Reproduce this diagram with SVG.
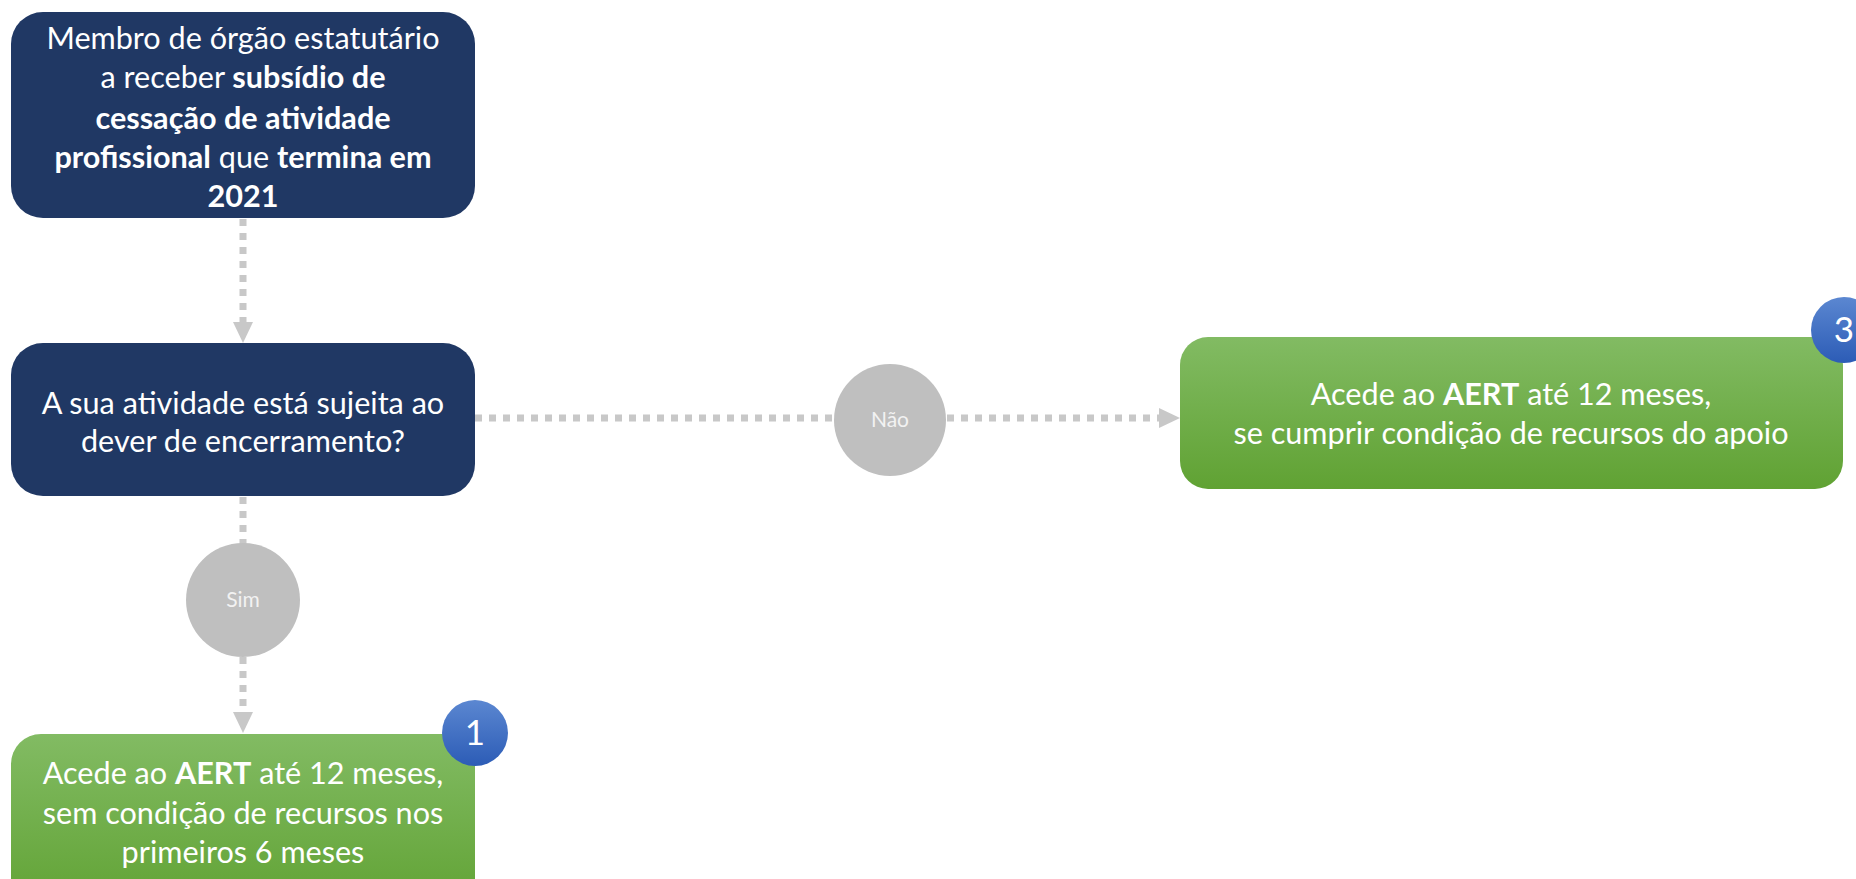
<svg xmlns="http://www.w3.org/2000/svg" width="1856" height="879" viewBox="0 0 1856 879">
<style>
.t{font-family:Lato,"Open Sans","Liberation Sans",sans-serif;fill:#ffffff;text-anchor:middle;font-size:30.6px}
.b{font-weight:bold}
.lbl{font-family:Lato,"Open Sans","Liberation Sans",sans-serif;fill:#f2f2f2;text-anchor:middle;font-size:21px}
.num{font-family:Lato,"Open Sans","Liberation Sans",sans-serif;fill:#ffffff;text-anchor:middle;font-size:35px}
.navy{fill:#203864}
.green{fill:url(#gg)}
.dot{fill:none;stroke:#c8c8c8;stroke-width:7;stroke-dasharray:7 7}
.dec{fill:#bfbfbf}
.badge{fill:url(#bg)}
</style>
<defs>
<linearGradient id="gg" x1="0" y1="0" x2="0" y2="1">
<stop offset="0" stop-color="#82bb63"/>
<stop offset="1" stop-color="#60a233"/>
</linearGradient>
<linearGradient id="bg" x1="0" y1="0" x2="0" y2="1">
<stop offset="0" stop-color="#5b87d1"/>
<stop offset="1" stop-color="#2c5cb6"/>
</linearGradient>
<marker id="ah" markerUnits="userSpaceOnUse" markerWidth="21" markerHeight="20" refX="0" refY="10" orient="auto">
<path d="M0,0 L21,10 L0,20 z" fill="#c8c8c8"/>
</marker>
</defs>
<g id="connectors">
<line class="dot" x1="243" y1="219" x2="243" y2="322" marker-end="url(#ah)"/>
<line class="dot" x1="243" y1="497" x2="243" y2="545"/>
<line class="dot" x1="243" y1="657" x2="243" y2="712" marker-end="url(#ah)"/>
<line class="dot" x1="475" y1="418" x2="836" y2="418"/>
<line class="dot" x1="947" y1="418" x2="1159" y2="418" marker-end="url(#ah)"/>
</g>
<g id="node-start">
<rect class="navy" x="11" y="12" width="464" height="206" rx="32"/>
<text class="t" x="243" y="49">Membro de órgão estatutário</text>
<text class="t" x="243" y="88">a receber <tspan class="b">subsídio de</tspan></text>
<text class="t" x="243" y="129"><tspan class="b">cessação de atividade</tspan></text>
<text class="t" x="243" y="168"><tspan class="b">profissional</tspan> que <tspan class="b">termina em</tspan></text>
<text class="t" x="243" y="207"><tspan class="b">2021</tspan></text>
</g>
<g id="node-question">
<rect class="navy" x="11" y="343" width="464" height="153" rx="32"/>
<text class="t" x="243" y="414">A sua atividade está sujeita ao</text>
<text class="t" x="243" y="452">dever de encerramento?</text>
</g>
<g id="node-sim">
<circle class="dec" cx="243" cy="600" r="57"/>
<text class="lbl" x="243" y="607">Sim</text>
</g>
<g id="node-nao">
<circle class="dec" cx="890" cy="420" r="56"/>
<text class="lbl" x="890" y="427">Não</text>
</g>
<g id="node-result1">
<rect class="green" x="11" y="734" width="464" height="180" rx="30"/>
<text class="t" x="243" y="784">Acede ao <tspan class="b">AERT</tspan> até 12 meses,</text>
<text class="t" x="243" y="824">sem condição de recursos nos</text>
<text class="t" x="243" y="863">primeiros 6 meses</text>
<circle class="badge" cx="475" cy="733" r="33"/>
<text class="num" x="475" y="745">1</text>
</g>
<g id="node-result3">
<rect class="green" x="1180" y="337" width="663" height="152" rx="28"/>
<text class="t" x="1511" y="405">Acede ao <tspan class="b">AERT</tspan> até 12 meses,</text>
<text class="t" x="1511" y="444">se cumprir condição de recursos do apoio</text>
<circle class="badge" cx="1844" cy="330" r="33"/>
<text class="num" x="1844" y="342">3</text>
</g>
</svg>
